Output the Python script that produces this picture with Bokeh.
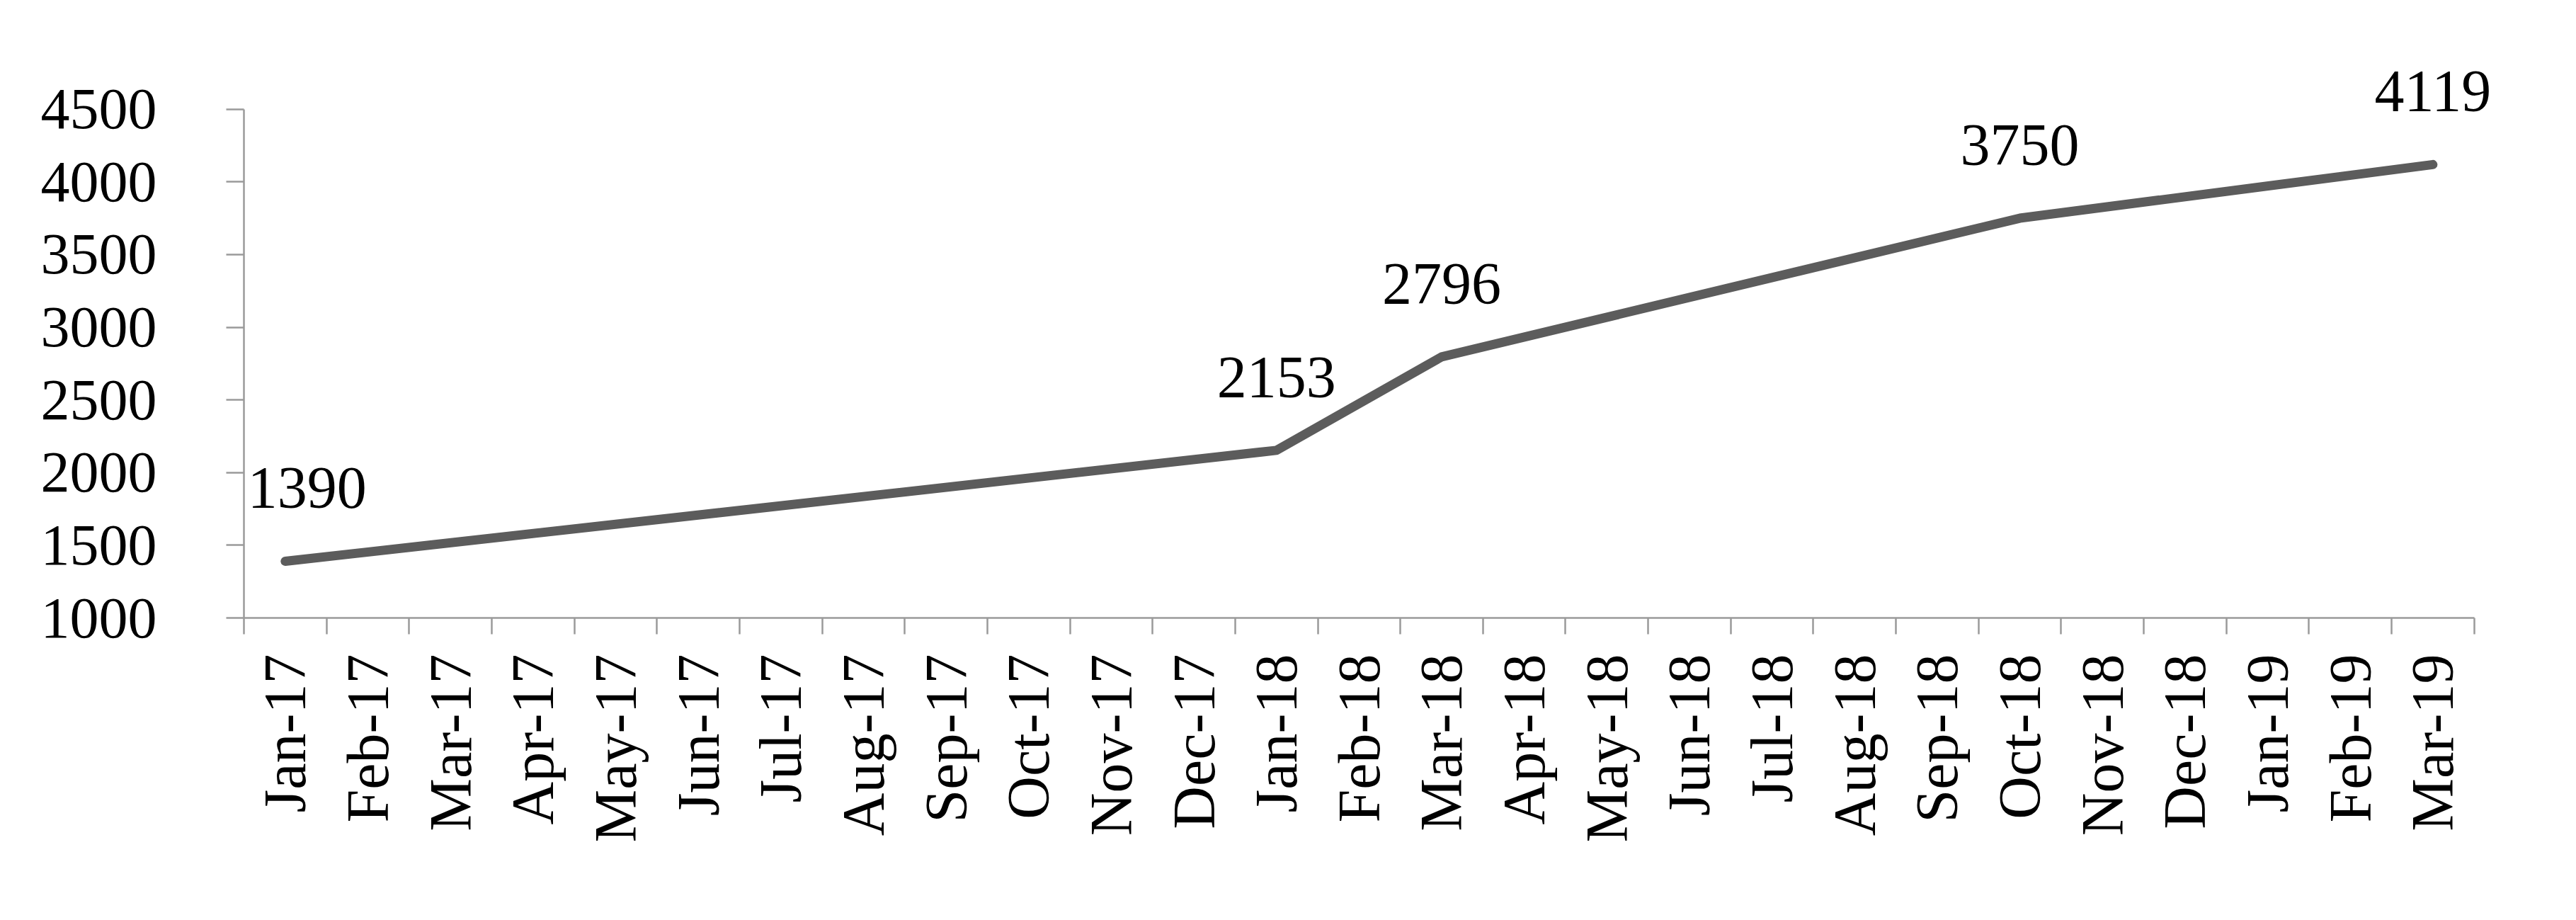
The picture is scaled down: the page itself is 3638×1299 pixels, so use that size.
import math
from bokeh.plotting import figure
from bokeh.models import (Range1d, LinearAxis, FixedTicker, ColumnDataSource, LabelSet,
                          CustomJSTickFormatter)
from bokeh.embed import file_html
from bokeh.resources import INLINE

# ---- data ----
months = ["Jan-17", "Feb-17", "Mar-17", "Apr-17", "May-17", "Jun-17", "Jul-17", "Aug-17",
          "Sep-17", "Oct-17", "Nov-17", "Dec-17", "Jan-18", "Feb-18", "Mar-18", "Apr-18",
          "May-18", "Jun-18", "Jul-18", "Aug-18", "Sep-18", "Oct-18", "Nov-18", "Dec-18",
          "Jan-19", "Feb-19", "Mar-19"]
point_months = ["Jan-17", "Jan-18", "Mar-18", "Oct-18", "Mar-19"]
point_values = [1390, 2153, 2796, 3750, 4119]
y_ticks = [1000, 1500, 2000, 2500, 3000, 3500, 4000, 4500]

FONT = "Liberation Serif"
AXIS_GREY = "#9a9a9a"
Y_HEADROOM = 500   # extra room above the axis so the top data label is not clipped
X_HEADROOM = 0.5   # extra room right of the axis so the last data label is not clipped

n = len(months)
p = figure(width=3620, height=1280, output_backend="svg", toolbar_location=None,
           x_range=Range1d(0, n + X_HEADROOM),
           y_range=Range1d(y_ticks[0], y_ticks[-1] + Y_HEADROOM),
           x_axis_location=None,
           min_border_left=344, min_border_right=68, min_border_top=51, min_border_bottom=408)
p.outline_line_color = None
p.xgrid.visible = False
p.ygrid.visible = False
p.background_fill_color = "white"
p.border_fill_color = "white"

# y axis
ya = p.yaxis[0]
ya.ticker = FixedTicker(ticks=y_ticks)
ya.bounds = (y_ticks[0], y_ticks[-1])
ya.major_tick_in = 0
ya.major_tick_out = 25
ya.minor_tick_line_color = None
ya.axis_line_color = AXIS_GREY
ya.axis_line_width = 2.5
ya.major_tick_line_color = AXIS_GREY
ya.major_tick_line_width = 2.5
ya.major_label_text_font = FONT
ya.major_label_text_font_size = "82px"
ya.major_label_text_color = "black"
ya.major_label_standoff = 98

# boundary ticks axis (ticks between month categories)
tick_axis = LinearAxis(ticker=FixedTicker(ticks=list(range(n + 1))),
                       bounds=(0, n),
                       formatter=CustomJSTickFormatter(code="return ''"),
                       major_tick_in=0, major_tick_out=23,
                       major_tick_line_color=AXIS_GREY, major_tick_line_width=2.5,
                       minor_tick_line_color=None,
                       axis_line_color=AXIS_GREY, axis_line_width=2.5,
                       major_label_text_font_size="1px", major_label_standoff=0)
p.add_layout(tick_axis, "below")

# month label axis (labels centred in each category)
cat_axis = LinearAxis(ticker=FixedTicker(ticks=[i + 0.5 for i in range(n)]),
                      formatter=CustomJSTickFormatter(args=dict(months=months),
                                                      code="return months[Math.floor(tick)]"),
                      major_tick_in=0, major_tick_out=0, major_tick_line_color=None,
                      axis_line_color=None, minor_tick_line_color=None,
                      major_label_orientation=math.pi / 2,
                      major_label_text_font=FONT, major_label_text_font_size="84px",
                      major_label_text_color="black", major_label_standoff=28)
p.add_layout(cat_axis, "below")

xs = [months.index(m) + 0.5 for m in point_months]
src = ColumnDataSource(dict(x=xs, y=point_values,
                            t=[str(v) for v in point_values],
                            dx=[31, 0, 0, 0, 0]))
p.line(x="x", y="y", source=src, line_width=13, line_color="#5c5c5c",
       line_cap="round", line_join="round")

labels = LabelSet(x="x", y="y", text="t", source=src, x_offset="dx", y_offset=103,
                  text_align="center", text_baseline="middle",
                  text_font=FONT, text_font_size="84px", text_color="black")
p.add_layout(labels)

open("out.html", "w").write(file_html(p, INLINE))
